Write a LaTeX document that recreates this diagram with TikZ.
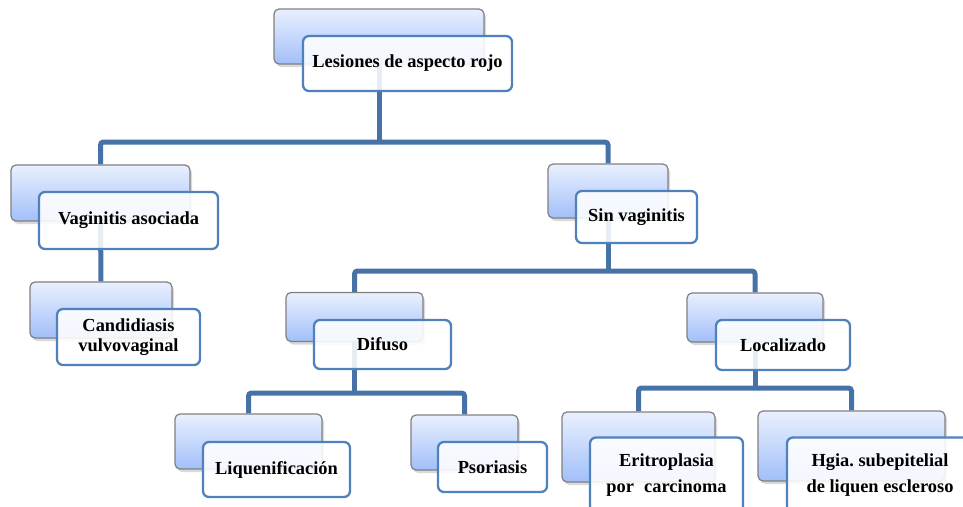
\documentclass[tikz,border=0pt]{standalone}
\usepackage{fontspec}
\setmainfont{Liberation Serif}
\usetikzlibrary{shadows,backgrounds}
\definecolor{backTop}{RGB}{233,240,254}
\definecolor{backBot}{RGB}{162,191,249}
\definecolor{backEdge}{RGB}{128,128,128}
\definecolor{frontEdge}{RGB}{79,129,189}
\definecolor{linkBlue}{RGB}{70,114,168}
\tikzset{
  backbox/.style={rectangle, rounded corners=5pt, draw=backEdge, line width=1.2pt,
    top color=backTop, bottom color=backBot, inner sep=0pt,
    drop shadow={shadow xshift=2pt, shadow yshift=-3pt, opacity=0.3}},
  frontbox/.style={rectangle, rounded corners=6pt, draw=frontEdge, line width=2.3pt,
    fill=white, fill opacity=0.88, text opacity=1, inner sep=2pt, align=center,
    text=black, font=\bfseries\fontsize{18.4}{20}\selectfont},
  tallline/.style={font=\bfseries\fontsize{18.4}{26}\selectfont},
  link/.style={draw=linkBlue, line width=5pt, rounded corners=3pt}
}
\frenchspacing
\begin{document}
\begin{tikzpicture}[x=1pt,y=-1pt]
\useasboundingbox (0,0) rectangle (963,506);
\clip (0,0) rectangle (963,506);

% back panels
\node[backbox, minimum width=210, minimum height=55] (topB) at (379,36.5) {};
\node[backbox, minimum width=179, minimum height=56] (vagB) at (100.5,193) {};
\node[backbox, minimum width=142, minimum height=56] (canB) at (101,310) {};
\node[backbox, minimum width=120, minimum height=54] (sinB) at (608,191) {};
\node[backbox, minimum width=137, minimum height=49] (difB) at (354.5,317) {};
\node[backbox, minimum width=136, minimum height=49] (locB) at (755,317.5) {};
\node[backbox, minimum width=147, minimum height=55] (liqB) at (248.5,441.5) {};
\node[backbox, minimum width=107, minimum height=55] (psoB) at (464.5,442.5) {};
\node[backbox, minimum width=153, minimum height=70] (eriB) at (638.5,447) {};
\node[backbox, minimum width=187, minimum height=70] (hgiB) at (851.5,446) {};

% front panels with the labels
\node[frontbox, minimum width=209, minimum height=55] (topF) at (407.5,63.5) {Lesiones de aspecto rojo};
\node[frontbox, minimum width=179, minimum height=57] (vagF) at (128.5,220.5) {Vaginitis asociada};
\node[frontbox, minimum width=143, minimum height=56] (canF) at (128.5,337) {Candidiasis\\vulvovaginal};
\node[frontbox, minimum width=121, minimum height=52] (sinF) at (636.5,217) {Sin vaginitis};
\node[frontbox, minimum width=137, minimum height=49] (difF) at (382.5,344.5) {Difuso};
\node[frontbox, minimum width=134, minimum height=50] (locF) at (783,345) {Localizado};
\node[frontbox, minimum width=147, minimum height=55] (liqF) at (276.5,469.5) {Liquenificación};
\node[frontbox, minimum width=109, minimum height=50] (psoF) at (492.5,467) {Psoriasis};
\node[frontbox, tallline, minimum width=153, minimum height=75] (eriF) at (666.5,475) {Eritroplasia\\por\hspace{0.55em}carcinoma};
\node[frontbox, tallline, minimum width=186, minimum height=75] (hgiF) at (880,475) {Hgia. subepitelial\\de liquen escleroso};

% connectors (behind all panels)
\coordinate (busA) at (0,142);
\coordinate (busB) at (0,271);
\coordinate (busC) at (0,393);
\coordinate (busD) at (0,388);
\begin{pgfonlayer}{background}
  \draw[link] (topB.south) -- (topB.south |- busA);
  \draw[link] (vagB.north) |- (sinB.north |- busA) -- (sinB.north);
  \draw[link] (vagB.south) -- (canB.north);
  \draw[link] (sinB.south) -- (sinB.south |- busB);
  \draw[link] (difB.north) |- (locB.north |- busB) -- (locB.north);
  \draw[link] (difB.south) -- (difB.south |- busC);
  \draw[link] (liqB.north) |- (psoB.north |- busC) -- (psoB.north);
  \draw[link] (locB.south) -- (locB.south |- busD);
  \draw[link] (eriB.north) |- (hgiB.north |- busD) -- (hgiB.north);
\end{pgfonlayer}
\end{tikzpicture}
\end{document}
